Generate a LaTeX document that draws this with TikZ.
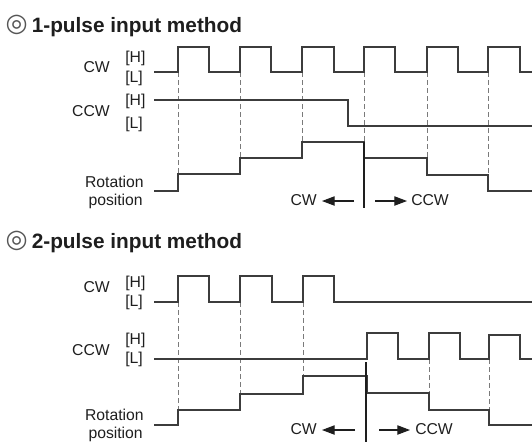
\documentclass[tikz,border=0pt]{standalone}
\usepackage{fontspec}
\setmainfont{Liberation Sans}
\newfontfamily\dejavu{DejaVu Sans}
\usetikzlibrary{arrows.meta}
\definecolor{txt}{HTML}{1E1E1E}
\definecolor{wave}{HTML}{3C3C3C}
\definecolor{guide}{HTML}{7A7A7A}
\begin{document}
\begin{tikzpicture}[x=0.75pt,y=-0.75pt,
  wavel/.style={draw=wave,line width=0.9pt,line join=miter},
  guidel/.style={draw=guide,line width=0.65pt,dash pattern=on 4pt off 2pt},
  divl/.style={draw=txt,line width=0.8pt},
  lbl/.style={text=txt,font=\fontsize{11.8}{13}\selectfont,inner sep=0pt},
  ttl/.style={text=txt,font=\fontsize{15.6}{18}\selectfont\bfseries,inner sep=0pt,anchor=base west},
  bull/.style={text=txt!75,font=\dejavu\fontsize{19}{21}\selectfont,inner sep=0pt,anchor=center},
  dirarrow/.style={draw=txt,line width=0.8pt,-{Triangle[length=9.5pt,width=7pt]}}]
\useasboundingbox (0,0) rectangle (532,444);
% ===== titles
\node[bull] (b1) at (16.7,24.7) {◎};
\node[ttl] (t1) at (31.5,32) {1-pulse input method};
\node[bull] (b2) at (16.7,240.7) {◎};
\node[ttl] (t2) at (31.5,248) {2-pulse input method};
% ===== top panel labels
\node[lbl,anchor=base east] (cw1) at (110,72.3) {CW};
\node[lbl,anchor=base west] (cw1h) at (125,62) {[H]};
\node[lbl,anchor=base west] (cw1l) at (125,82) {[L]};
\node[lbl,anchor=base east] (ccw1) at (110,116.5) {CCW};
\node[lbl,anchor=base west] (ccw1h) at (125,105.5) {[H]};
\node[lbl,anchor=base west] (ccw1l) at (125,128.5) {[L]};
\node[lbl,anchor=base east] (rot1) at (144,187.3) {Rotation};
\node[lbl,anchor=base east] (pos1) at (143,205) {position};
% guides top
\draw[guidel] (178,72) -- (178,174);
\draw[guidel] (240,72) -- (240,158);
\draw[guidel] (302,72) -- (302,142);
\draw[guidel] (364,72) -- (364,142);
\draw[guidel] (427,72) -- (427,158);
\draw[guidel] (488,72) -- (488,175);
% waves top
\draw[wavel] (154,72) -- (178,72) -- (178,47) -- (209,47) -- (209,72) -- (240,72) -- (240,47) -- (271,47) -- (271,72) -- (302,72) -- (302,47) -- (334,47) -- (334,72) -- (364,72) -- (364,47) -- (395,47) -- (395,72) -- (427,72) -- (427,47) -- (458,47) -- (458,72) -- (488,72) -- (488,47) -- (520,47) -- (520,72) -- (533,72);
\draw[wavel] (154,100) -- (348,100) -- (348,126) -- (533,126);
\draw[wavel] (154,191) -- (178,191) -- (178,174) -- (240,174) -- (240,158) -- (302,158) -- (302,142) -- (364,142) -- (364,158) -- (427,158) -- (427,175) -- (488,175) -- (488,191) -- (533,191);
\draw[divl] (364,142) -- (364,208);
% direction arrows top
\coordinate (a1s) at (354,201); \coordinate (a1e) at (322,201);
\coordinate (b1s) at (375,201); \coordinate (b1e) at (407,201);
\draw[dirarrow] (a1s) -- (a1e);
\draw[dirarrow] (b1s) -- (b1e);
\node[lbl,anchor=base east] (d1cw) at (317,205.5) {CW};
\node[lbl,anchor=base west] (d1ccw) at (411,205.5) {CCW};
% ===== bottom panel labels
\node[lbl,anchor=base east] (cw2) at (110,292.5) {CW};
\node[lbl,anchor=base west] (cw2h) at (125,287) {[H]};
\node[lbl,anchor=base west] (cw2l) at (125,306) {[L]};
\node[lbl,anchor=base east] (ccw2) at (110,355) {CCW};
\node[lbl,anchor=base west] (ccw2h) at (125,344) {[H]};
\node[lbl,anchor=base west] (ccw2l) at (125,363) {[L]};
\node[lbl,anchor=base east] (rot2) at (144,420.3) {Rotation};
\node[lbl,anchor=base east] (pos2) at (143,438) {position};
% guides bottom
\draw[guidel] (178,302) -- (178,410);
\draw[guidel] (240,302) -- (240,394);
\draw[guidel] (303,302) -- (303,376);
\draw[guidel] (429,359) -- (429,393);
\draw[guidel] (489,359) -- (489,410);
% waves bottom
\draw[wavel] (154,302) -- (178,302) -- (178,276) -- (209,276) -- (209,302) -- (240,302) -- (240,276) -- (272,276) -- (272,302) -- (303,302) -- (303,276) -- (334,276) -- (334,302) -- (533,302);
\draw[wavel] (154,359) -- (367,359) -- (367,333) -- (398,333) -- (398,359) -- (429,359) -- (429,333) -- (460,333) -- (460,359) -- (489,359) -- (489,335) -- (520,335) -- (520,359) -- (533,359);
\draw[wavel] (154,425) -- (178,425) -- (178,410) -- (240,410) -- (240,394) -- (303,394) -- (303,376) -- (367,376) -- (367,393) -- (429,393) -- (429,410) -- (489,410) -- (489,425) -- (533,425);
\draw[divl] (366,362) -- (366,442);
% direction arrows bottom
\coordinate (a2s) at (355,430); \coordinate (a2e) at (322,430);
\coordinate (b2s) at (379,430); \coordinate (b2e) at (410,430);
\draw[dirarrow] (a2s) -- (a2e);
\draw[dirarrow] (b2s) -- (b2e);
\node[lbl,anchor=base east] (d2cw) at (317,434.5) {CW};
\node[lbl,anchor=base west] (d2ccw) at (415,434.5) {CCW};
\end{tikzpicture}
\end{document}
